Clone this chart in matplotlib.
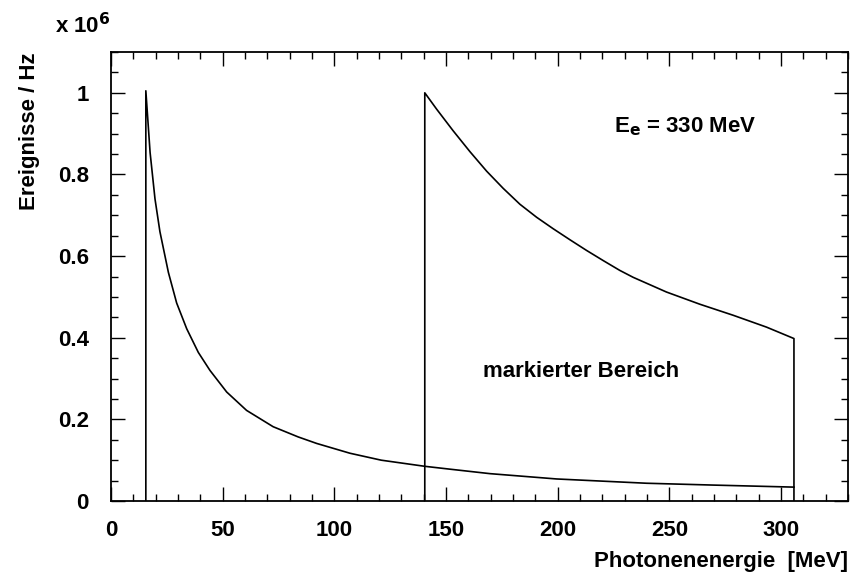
import matplotlib
matplotlib.use("Agg")
import matplotlib.pyplot as plt
from matplotlib.ticker import MultipleLocator, FuncFormatter

plt.rcParams['font.family'] = ['Liberation Sans', 'DejaVu Sans']
plt.rcParams['font.weight'] = 'bold'
plt.rcParams['mathtext.default'] = 'bf'

# Bremsstrahlung spectrum (full), units of 1e6 Hz
e_full = [15.6, 15.6, 17.5, 19.7, 21.9, 25.7, 29.4, 33.9, 39.1, 44.3, 51.8,
          60.7, 72.6, 83.8, 92.1, 107.0, 121.0, 140.5, 151.7, 169.7, 199.5,
          239.8, 269.6, 305.8]
n_full = [0.0, 1.005, 0.854, 0.740, 0.660, 0.560, 0.485, 0.422, 0.364, 0.320,
          0.267, 0.222, 0.182, 0.157, 0.141, 0.117, 0.100, 0.085, 0.078,
          0.067, 0.054, 0.0435, 0.039, 0.034]

# marked region (tagged)
e_mark = [140.5, 140.5, 145.8, 153.2, 160.7, 168.2, 175.6, 183.1, 190.6,
          198.0, 205.5, 212.9, 220.4, 227.8, 233.8, 248.7, 263.7, 278.6,
          293.5, 305.8, 305.8]
n_mark = [0.0, 1.0, 0.960, 0.907, 0.856, 0.808, 0.766, 0.727, 0.695, 0.667,
          0.640, 0.614, 0.589, 0.565, 0.548, 0.512, 0.482, 0.455, 0.426,
          0.398, 0.0]

x_ticks = [0, 50, 100, 150, 200, 250, 300]
y_ticks = [0, 0.2, 0.4, 0.6, 0.8, 1.0]

fig = plt.figure(figsize=(8.5, 5.74), dpi=100)
ax = fig.add_axes([111/850, 73/574, 737/850, 449/574])

ax.plot(e_full, n_full, color='black', lw=1.2)
ax.plot(e_mark, n_mark, color='black', lw=1.2)

ax.set_xlim(0, 330)
ax.set_ylim(0, 1.1)
ax.set_xticks(x_ticks)
ax.set_yticks(y_ticks)
ax.xaxis.set_minor_locator(MultipleLocator(10))
ax.yaxis.set_minor_locator(MultipleLocator(0.05))

def yfmt(v, pos):
    s = ('%.1f' % v)
    if s.endswith('.0'):
        s = s[:-2]
    return s
ax.yaxis.set_major_formatter(FuncFormatter(yfmt))

ax.tick_params(which='both', direction='in', top=True, right=True, width=1.0)
ax.tick_params(which='major', length=10, labelsize=16)
ax.tick_params(which='minor', length=5)
ax.tick_params(axis='x', which='major', pad=14)
ax.tick_params(axis='y', which='major', pad=16)
for lab in ax.get_xticklabels() + ax.get_yticklabels():
    lab.set_fontweight('bold')
for s in ax.spines.values():
    s.set_linewidth(1.3)

ax.set_xlabel('Photonenenergie  [MeV]', loc='right', fontsize=16,
              fontweight='bold', labelpad=7)
ax.set_ylabel('Ereignisse / Hz', loc='top', fontsize=16, fontweight='bold',
              labelpad=13)

fig.text(55/850, 1 - 26/574, r'x 10$^{6}$', fontsize=16,
         fontweight='bold', va='center', ha='left')

ax.text(0.683, 0.833, r'E$_{e}$ = 330 MeV', transform=ax.transAxes,
        fontsize=16, fontweight='bold', ha='left', va='center')
ax.text(0.505, 0.288, 'markierter Bereich', transform=ax.transAxes,
        fontsize=16, fontweight='bold', ha='left', va='center')

fig.savefig('out.png', dpi=100)
